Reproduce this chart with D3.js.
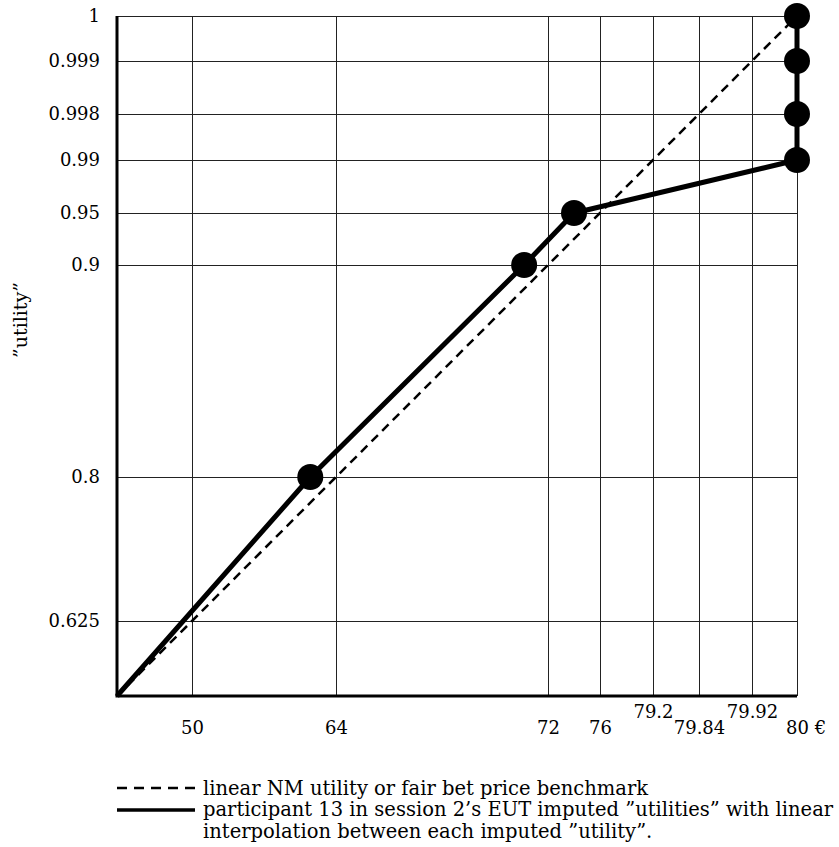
<!DOCTYPE html>
<html>
<head>
<meta charset="utf-8">
<script src="https://cdn.jsdelivr.net/npm/d3@7"></script>
<style>
  body { margin: 0; background: #fff; }
  svg { display: block; }
  svg text { font-family: "DejaVu Serif", serif; fill: #000; }
</style>
</head>
<body>
<svg></svg>
<script>
// tick values (price in euro and the matching "utility")
const priceTicks = [50, 64, 72, 76, 79.2, 79.84, 79.92, 80]
const utilityTicks = [0.625, 0.8, 0.9, 0.95, 0.99, 0.998, 0.999, 1]
const raisedLabels = [79.2, 79.92]

// axis origin (not labelled)
const priceStart = 40
const utilityStart = 0.5

// participant 13, session 2: imputed points
const participantPrices = [61.5, 71.1, 74, 80, 80, 80, 80]
const participantUtilities = [0.8, 0.9, 0.95, 0.99, 0.998, 0.999, 1]

// position of every tick along the axis, as share of the axis length
const stops = [0, 75, 219, 431, 483, 536, 582, 635, 680].map(d => d / 680)

const W = 839, H = 847
const margin = {left: 117, top: 16}
const size = 680

const svg = d3.select("svg")
    .attr("width", W)
    .attr("height", H)

const x = d3.scaleLinear()
    .domain([priceStart, ...priceTicks])
    .range(stops.map(s => margin.left + s * size))

const y = d3.scaleLinear()
    .domain([utilityStart, ...utilityTicks])
    .range(stops.map(s => margin.top + size - s * size))

// grid + labels from the axes
const xAxis = svg.append("g")
    .attr("transform", `translate(0,${margin.top + size})`)
    .call(d3.axisBottom(x)
        .tickValues(priceTicks)
        .tickFormat(d => d === 80 ? "80 €" : d)
        .tickSize(-size)
        .tickSizeOuter(0))

xAxis.attr("font-family", null).attr("font-size", 18)
xAxis.select(".domain").remove()
xAxis.selectAll(".tick line").attr("stroke", "#222").attr("stroke-width", 1)
xAxis.selectAll(".tick text")
    .attr("dy", "0.35em")
    .attr("y", d => raisedLabels.includes(d) ? 16 : 32)
    .attr("text-anchor", d => d === 80 ? "start" : "middle")
    .attr("dx", d => d === 80 ? "-0.636em" : 0)

const yAxis = svg.append("g")
    .attr("transform", `translate(${margin.left},0)`)
    .call(d3.axisLeft(y)
        .tickValues(utilityTicks)
        .tickFormat(d => d)
        .tickSize(-size)
        .tickSizeOuter(0)
        .tickPadding(17))

yAxis.attr("font-family", null).attr("font-size", 18)
yAxis.select(".domain").remove()
yAxis.selectAll(".tick line").attr("stroke", "#222").attr("stroke-width", 1)

// thick axis lines
svg.append("line")
    .attr("x1", x(priceStart)).attr("x2", x(priceStart))
    .attr("y1", y(1)).attr("y2", y(utilityStart))
    .attr("stroke", "#000").attr("stroke-width", 3)

svg.append("line")
    .attr("x1", x(priceStart) - 1.5).attr("x2", x(80))
    .attr("y1", y(utilityStart)).attr("y2", y(utilityStart))
    .attr("stroke", "#000").attr("stroke-width", 3)

// benchmark: linear NM utility, and the participant's curve
const benchmark = [[priceStart, utilityStart]].concat(priceTicks.map((p, i) => [p, utilityTicks[i]]))
const participant = [[priceStart, utilityStart]].concat(participantPrices.map((p, i) => [p, participantUtilities[i]]))

const line = d3.line()
    .x(d => x(d[0]))
    .y(d => y(d[1]))

svg.append("path")
    .datum(benchmark)
    .attr("d", line)
    .attr("fill", "none")
    .attr("stroke", "#000")
    .attr("stroke-width", 2.5)
    .attr("stroke-dasharray", "9,6")

svg.append("path")
    .datum(participant)
    .attr("d", line)
    .attr("fill", "none")
    .attr("stroke", "#000")
    .attr("stroke-width", 5)
    .attr("stroke-linejoin", "round")

svg.selectAll("circle.pt")
    .data(participant.slice(1))
    .enter()
    .append("circle")
    .attr("class", "pt")
    .attr("cx", d => x(d[0]))
    .attr("cy", d => y(d[1]))
    .attr("r", 13)
    .attr("fill", "#000")

// y axis title
svg.append("text")
    .attr("transform", "translate(20,320) rotate(-90)")
    .attr("text-anchor", "middle")
    .attr("dy", "0.35em")
    .attr("font-size", 19)
    .text("”utility”")

// legend
const legend = svg.append("g")

legend.append("line")
    .attr("x1", 117).attr("x2", 195)
    .attr("y1", 788).attr("y2", 788)
    .attr("stroke", "#000").attr("stroke-width", 2.5)
    .attr("stroke-dasharray", "10,7")

legend.append("line")
    .attr("x1", 117).attr("x2", 195)
    .attr("y1", 810).attr("y2", 810)
    .attr("stroke", "#000").attr("stroke-width", 3.5)

const legendLines = [
    "linear NM utility or fair bet price benchmark",
    "participant 13 in session 2’s EUT imputed ”utilities” with linear",
    "interpolation between each imputed ”utility”."
]

legend.selectAll("text")
    .data(legendLines)
    .enter()
    .append("text")
    .attr("x", 203)
    .attr("y", (d, i) => 788 + i * 21.5)
    .attr("dy", "0.35em")
    .attr("font-size", 19.5)
    .text(d => d)
</script>
</body>
</html>
